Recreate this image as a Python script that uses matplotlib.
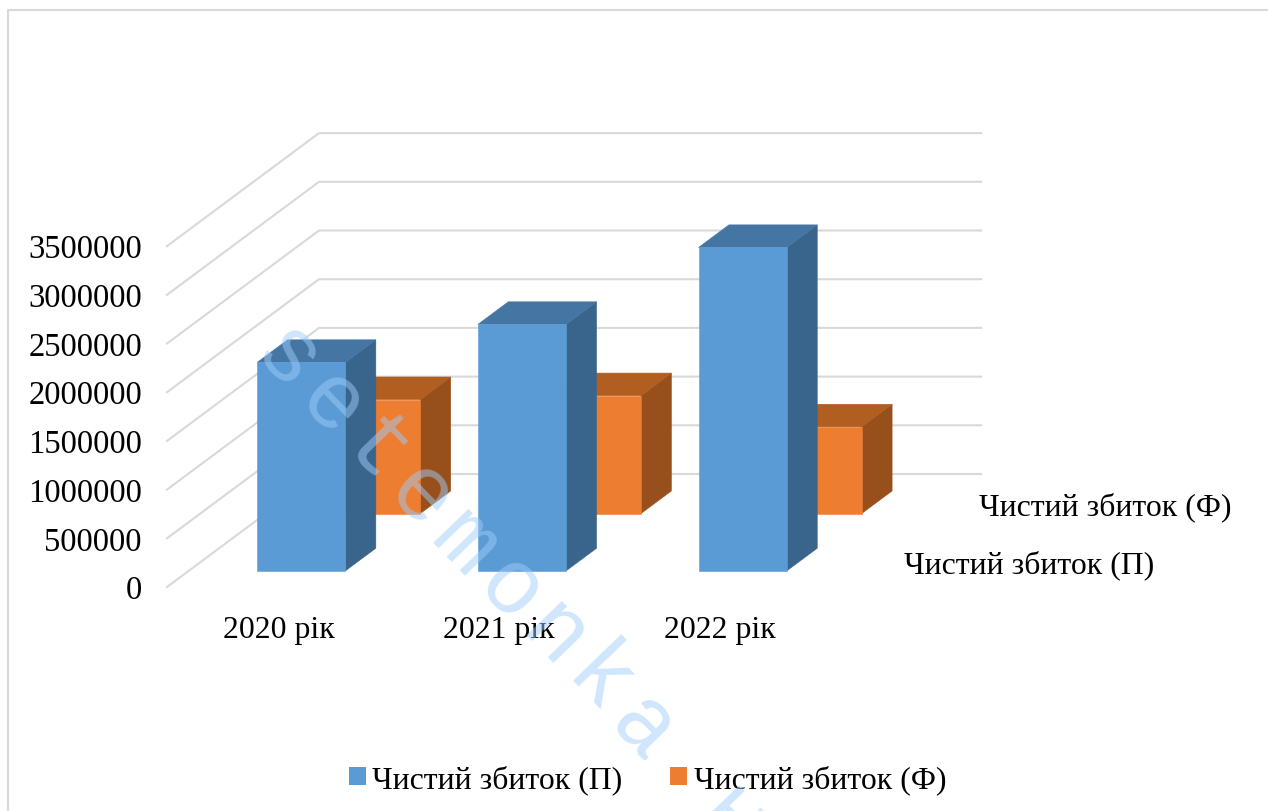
import matplotlib
matplotlib.use("Agg")
import matplotlib.pyplot as plt
from matplotlib.patches import Rectangle
from matplotlib.transforms import ScaledTranslation

plt.rcParams["font.family"] = ["Liberation Serif", "DejaVu Serif"]

# Data
categories = ["2020 рік", "2021 рік", "2022 рік"]
plan_values = [2140000, 2530000, 3320000]
actual_values = [1170000, 1210000, 890000]
plan_label = "Чистий збиток (П)"
actual_label = "Чистий збиток (Ф)"
y_ticks = [0, 500000, 1000000, 1500000, 2000000, 2500000, 3000000, 3500000]
watermark = "setemonka н"

# Oblique projection settings (depth is 0 at the front of the floor, 1 at the back wall)
W, H = 1268, 812
BAND_PX = 220.7
UNIT_PX = 48.7 / 500000
X0_PX, Y0_PX = 167.0, 588.0
DEPTH_DX = 152.0 / BAND_PX
DEPTH_DY = 113.0 / UNIT_PX
BAR_WIDTH = 0.40
BAR_DEPTH = 0.20


def project(x, y, depth=0.0):
    return x + depth * DEPTH_DX, y + depth * DEPTH_DY


fig = plt.figure(figsize=(W / 100, H / 100), dpi=100)
ax = fig.add_axes([0, 0, 1, 1])
ax.set_xlim(-X0_PX / BAND_PX - 0.5, (W - X0_PX) / BAND_PX - 0.5)
ax.set_ylim(-(H - Y0_PX) / UNIT_PX, Y0_PX / UNIT_PX)
ax.axis("off")

# Outer chart frame
fig.add_artist(plt.Line2D([8 / W, 8 / W, 1], [0, 1 - 11 / H, 1 - 11 / H],
                          color="#d9d9d9", lw=1.5))

# Gridlines along the side wall and the back wall
n_cat = len(categories)
tick_shift = ax.transData + ScaledTranslation(-25 / 100, -3 / 100, fig.dpi_scale_trans)
for t in y_ticks:
    xs, ys = zip(project(-0.5, t, 0), project(-0.5, t, 1), project(n_cat - 0.5, t, 1))
    ax.plot(xs, ys, color="#d9d9d9", lw=1.5, solid_joinstyle="miter", zorder=1)
    ax.text(-0.5, t, f"{t}", ha="right", va="center", fontsize=23.5, color="black",
            transform=tick_shift)


def draw_bar(x, value, depth, front, top, side, z):
    left, right = x - BAR_WIDTH / 2, x + BAR_WIDTH / 2
    near, far = depth, depth + BAR_DEPTH
    fx, fy = project(x, 0, near)
    top_face = [project(left, value, near), project(left, value, far),
                project(right, value, far), project(right, value, near)]
    side_face = [project(right, 0, near), project(right, 0, far),
                 project(right, value, far), project(right, value, near)]
    ax.fill(*zip(*top_face), facecolor=top, edgecolor=top, lw=0.4, zorder=z + 0.1)
    ax.fill(*zip(*side_face), facecolor=side, edgecolor=side, lw=0.4, zorder=z)
    ax.bar(fx, value, width=BAR_WIDTH, bottom=fy, color=front, edgecolor=front, lw=0.4,
           zorder=z + 0.2)


for i, value in enumerate(actual_values):
    draw_bar(i, value, 0.65, "#ed7d31", "#b25e21", "#97501c", 2)
for i, value in enumerate(plan_values):
    draw_bar(i + 0.01, value, 0.143, "#5b9bd5", "#4576a3", "#39648b", 3)

# Category labels below the floor, series labels along the depth axis
for i, name in enumerate(categories):
    ax.text(i + 0.005, -440000, name, ha="center", va="center", fontsize=22.9)


def place(px, py, s, **kw):
    ax.text(px / W, 1 - py / H, s, transform=ax.transAxes, va="center", fontsize=22.9, **kw)


place(979, 507, actual_label)
place(904, 565, plan_label)

# Legend along the bottom edge
for sq_x, txt_x, colour, label in [(349, 372, "#5b9bd5", plan_label), (670, 694, "#ed7d31", actual_label)]:
    ax.add_patch(Rectangle((sq_x / W, 1 - 786 / H), 17 / W, 18 / H, transform=ax.transAxes,
                           color=colour, linewidth=0, zorder=6))
    place(txt_x, 780, label)

# Diagonal site watermark, one evenly spaced glyph at a time
for n, ch in enumerate(watermark):
    cx, cy = 287 + n * 44.4 - 17.5, 360 + n * 46.2 + 16.8
    ax.text(cx / W, 1 - cy / H, ch, transform=ax.transAxes, rotation=-46,
            rotation_mode="anchor", ha="center", va="baseline",
            family=["Liberation Mono", "DejaVu Sans Mono"],
            fontsize=66, color="#9fcdfb", alpha=0.5, zorder=10, clip_on=True)

fig.savefig("out.png", dpi=100)
